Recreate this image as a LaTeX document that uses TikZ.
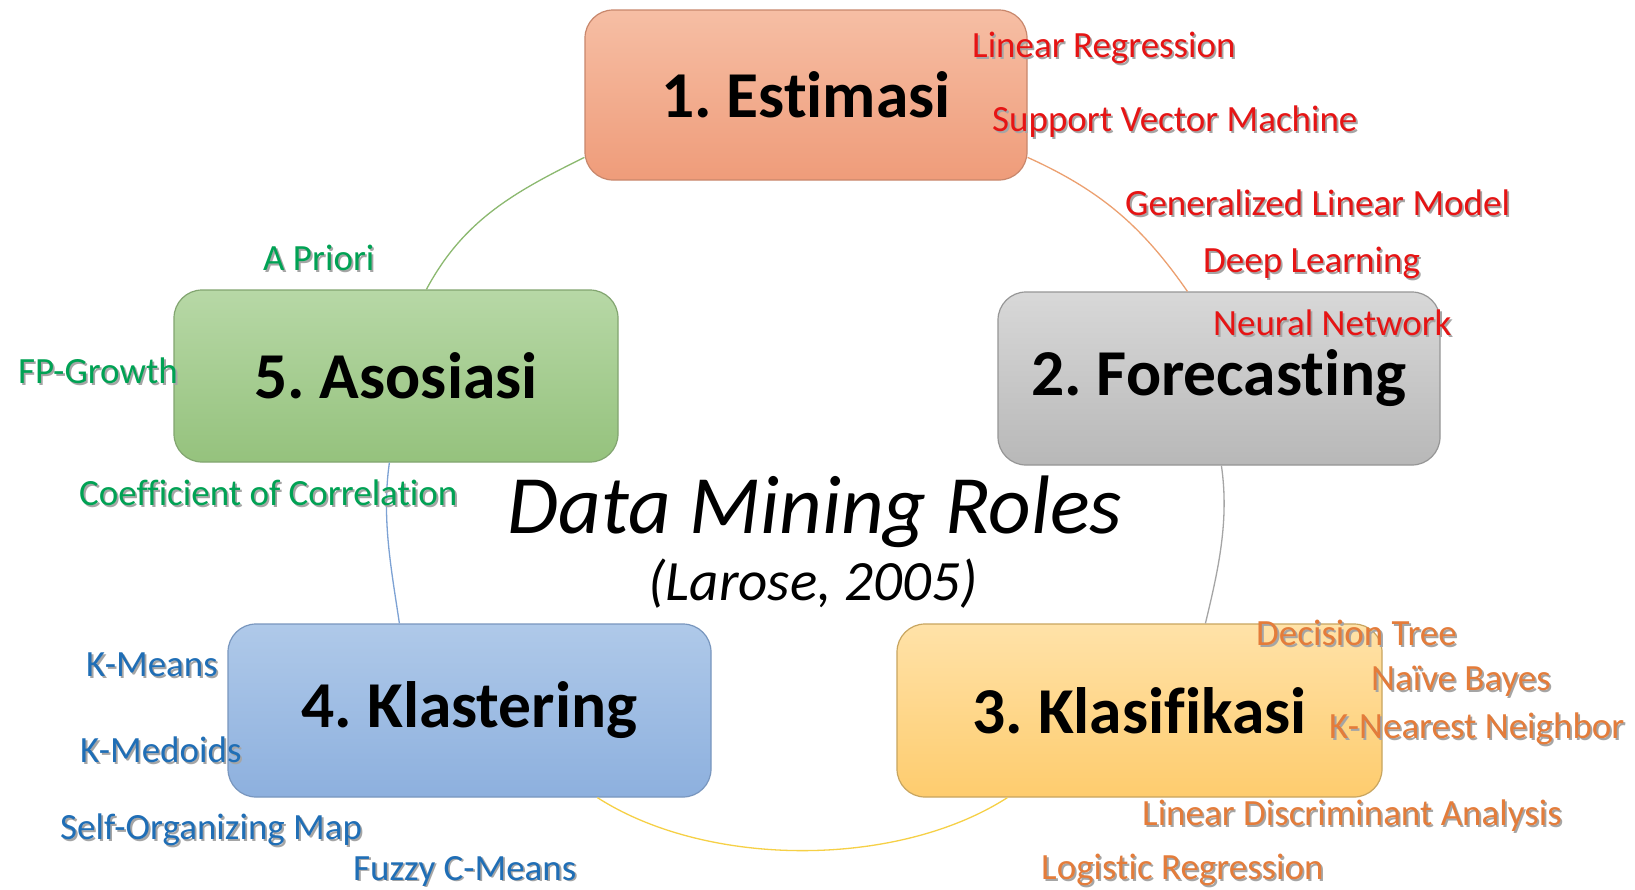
\documentclass[tikz,border=0pt]{standalone}
\usepackage{fontspec}
\setmainfont{Carlito}[Ligatures=NoCommon]
\usetikzlibrary{calc}
\definecolor{cRed}{RGB}{230,20,20}
\definecolor{cOra}{RGB}{228,124,58}
\definecolor{cGrn}{RGB}{0,162,84}
\definecolor{cBlu}{RGB}{31,110,182}
\definecolor{shd}{RGB}{165,165,165}
\newcommand\shtxt[2]{\makebox[0pt][l]{\hspace{1.8pt}\raisebox{-1.8pt}{\color{shd}#2}}{\color{#1}#2}}
\tikzset{
  box/.style={rounded corners=28pt, inner sep=0pt, line width=1.2pt, align=center,
    font=\fontsize{65.5}{72}\selectfont\bfseries},
  lab/.style={anchor=base west, inner sep=0pt, font=\fontsize{37}{42}\selectfont},
  arcl/.style={line width=1.3pt},
}
\begin{document}
\frenchspacing
\begin{tikzpicture}[x=1pt,y=-1pt]
\useasboundingbox[fill=white] (0,0) rectangle (1635,889);

% boxes
\node[box, minimum width=442, minimum height=170, draw={rgb,255:red,200;green,135;blue,108},
  top color={rgb,255:red,246;green,190;blue,164}, bottom color={rgb,255:red,239;green,156;blue,122}]
  (e1) at (806,95) {1. Estimasi};
\node[box, minimum width=442, minimum height=173, draw={rgb,255:red,150;green,150;blue,150},
  top color={rgb,255:red,216;green,216;blue,216}, bottom color={rgb,255:red,184;green,184;blue,184}]
  (e2) at (1219,378.5) {2. Forecasting};
\node[box, minimum width=485, minimum height=173, draw={rgb,255:red,200;green,165;blue,95},
  top color={rgb,255:red,255;green,226;blue,168}, bottom color={rgb,255:red,254;green,204;blue,110}]
  (e3) at (1139.5,710.5) {3. Klasifikasi};
\node[box, minimum width=483, minimum height=173, draw={rgb,255:red,120;green,150;blue,190},
  top color={rgb,255:red,175;green,201;blue,233}, bottom color={rgb,255:red,141;green,176;blue,222}]
  (e4) at (469.5,710.5) {4. Klastering};
\node[box, minimum width=444, minimum height=172, draw={rgb,255:red,130;green,165;blue,112},
  top color={rgb,255:red,183;green,216;blue,166}, bottom color={rgb,255:red,149;green,194;blue,125}]
  (e5) at (396,376) {5. Asosiasi};

% arc end points on the box borders
\coordinate (g0) at ($(e5.north west)+(253,0)$);
\coordinate (g1) at ($(e1.north west)+(0,148)$);
\coordinate (o0) at ($(e1.north east)+(0,148)$);
\coordinate (o1) at ($(e2.north west)+(190,0)$);
\coordinate (r0) at ($(e2.south west)+(224,0)$);
\coordinate (r1) at ($(e3.north west)+(309,0)$);
\coordinate (y0) at ($(e4.south west)+(370,0)$);
\coordinate (y1) at ($(e3.south west)+(111,0)$);
\coordinate (b0) at ($(e5.south west)+(216,0)$);
\coordinate (b1) at ($(e4.north west)+(172,0)$);

% cycle arcs
\draw[arcl, draw={rgb,255:red,140;green,185;blue,112}] (g0) .. controls +(37,-69) and +(-71,35) .. (g1);
\draw[arcl, draw={rgb,255:red,236;green,160;blue,112}] (o0) .. controls +(73,33) and +(-45,-65) .. (o1);
\draw[arcl, draw={rgb,255:red,165;green,165;blue,165}] (r0) .. controls +(8,55) and +(13,-54) .. (r1);
\draw[arcl, draw={rgb,255:red,246;green,208;blue,70}] (y0) .. controls +(110,70.7) and +(-110,70.7) .. (y1);
\draw[arcl, draw={rgb,255:red,125;green,162;blue,212}] (b0) .. controls +(-8,56) and +(-8,-54) .. (b1);

% centre title
\node[inner sep=0pt, font=\fontsize{83}{92}\selectfont\itshape] (t) at (815,512) {Data Mining Roles};
\node[inner sep=0pt, font=\fontsize{57}{64}\selectfont\itshape] (st) at (813,584) {(Larose, 2005)};

% Estimasi / Forecasting methods
\node[lab] (l1) at (972,57.5) {\shtxt{cRed}{Linear Regression}};
\node[lab] (l2) at (992,131.5) {\shtxt{cRed}{Support Vector Machine}};
\node[lab] (l3) at (1125,215.5) {\shtxt{cRed}{Generalized Linear Model}};
\node[lab] (l4) at (1203,272.5) {\shtxt{cRed}{Deep Learning}};
\node[lab] (l5) at (1213,335.5) {\shtxt{cRed}{Neural Network}};
% Asosiasi
\node[lab] (a1) at (263,270.5) {\shtxt{cGrn}{A Priori}};
\node[lab] (a2) at (18,383.5) {\shtxt{cGrn}{FP-Growth}};
\node[lab] (a3) at (79,505.5) {\shtxt{cGrn}{Coefficient of Correlation}};
% Klastering
\node[lab] (k1) at (86,676.5) {\shtxt{cBlu}{K-Means}};
\node[lab] (k2) at (80,762.5) {\shtxt{cBlu}{K-Medoids}};
\node[lab] (k3) at (60,839.5) {\shtxt{cBlu}{Self-Organizing Map}};
\node[lab] (k4) at (353,880) {\shtxt{cBlu}{Fuzzy C-Means}};
% Klasifikasi
\node[lab] (c1) at (1256,645.5) {\shtxt{cOra}{Decision Tree}};
\node[lab] (c2) at (1371,690.5) {\shtxt{cOra}{Naïve Bayes}};
\node[lab] (c3) at (1329,738.5) {\shtxt{cOra}{K-Nearest Neighbor}};
\node[lab] (c4) at (1142,825.5) {\shtxt{cOra}{Linear Discriminant Analysis}};
\node[lab] (c5) at (1041,879.5) {\shtxt{cOra}{Logistic Regression}};
\end{tikzpicture}
\end{document}
